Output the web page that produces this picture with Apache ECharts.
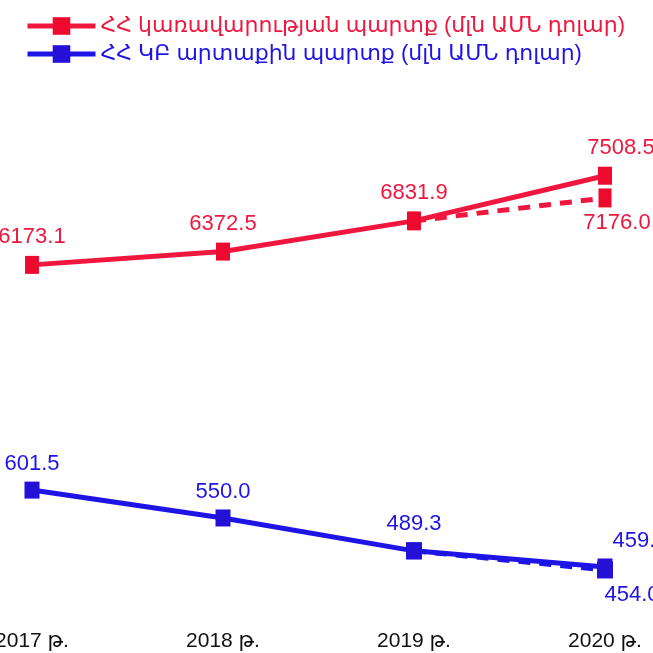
<!DOCTYPE html>
<html>
<head>
<meta charset="utf-8">
<script src="https://cdn.jsdelivr.net/npm/echarts@6/dist/echarts.min.js"></script>
<style>
  html, body { margin: 0; padding: 0; background: #fff; }
  #main { width: 653px; height: 653px; }
</style>
</head>
<body>
<div id="main"></div>
<script>
// data
var years = ['2017 թ.', '2018 թ.', '2019 թ.', '2020 թ.']
var govDebt = [6173.1, 6372.5, 6831.9, 7508.5]
var govDebtAlt = [null, null, 6831.9, 7176.0]
var cbDebt = [601.5, 550.0, 489.3, 459.5]
var cbDebtAlt = [null, null, 489.3, 454.0]

var govName = 'ՀՀ կառավարության պարտք (մլն ԱՄՆ դոլար)'
var cbName = 'ՀՀ ԿԲ արտաքին պարտք (մլն ԱՄՆ դոլար)'

var red = '#F0173F'
var redMark = '#EE0A2E'
var blue = '#1F14E6'
var blueMark = '#2410D6'
var font = '"Liberation Sans", Arial, "DejaVu Sans", sans-serif'

var myChart = echarts.init(document.getElementById('main'))

function fmt (p) { return p.value.toFixed(1) }

// label placement for the 2020 points, which sit off to the right
function lastLabel (pos, dx, color) {
  return {
    show: true,
    position: pos,
    offset: [dx, 0],
    color: color,
    fontSize: 22,
    fontFamily: font,
    formatter: fmt
  }
}

var option = {
  backgroundColor: '#fff',
  animation: false,
  legend: {
    data: [
      { name: govName, textStyle: { color: red } },
      { name: cbName, textStyle: { color: blue } }
    ],
    orient: 'vertical',
    left: 20,
    top: 10,
    itemWidth: 68,
    itemHeight: 22,
    itemGap: 6,
    lineStyle: { width: 5 },
    textStyle: { fontSize: 22, fontFamily: font }
  },
  grid: { left: 32, right: 48, top: 100, bottom: 53, outerBoundsMode: 'none' },
  xAxis: {
    type: 'category',
    data: years,
    boundaryGap: false,
    axisLine: { show: false },
    axisTick: { show: false },
    splitLine: { show: false },
    axisLabel: { margin: 31, fontSize: 21, color: '#111', fontFamily: font }
  },
  yAxis: [
    { type: 'value', min: 1153, max: 8643, show: false, splitLine: { show: false } },
    { type: 'value', min: 398.5, max: 1322, show: false, splitLine: { show: false } }
  ],
  series: [
    {
      name: 'gov-alt',
      type: 'line',
      yAxisIndex: 0,
      data: govDebtAlt.map(function (v, i) {
        if (i === 3) return { value: v, label: lastLabel('bottom', 12, red) }
        return v
      }),
      symbol: 'rect',
      symbolSize: [13, 19],
      itemStyle: { color: redMark },
      lineStyle: { color: red, width: 5, type: [12, 9] },
      label: { show: false }
    },
    {
      name: 'cb-alt',
      type: 'line',
      yAxisIndex: 1,
      data: cbDebtAlt.map(function (v, i) {
        if (i === 3) return { value: v, label: lastLabel('bottom', 27, blue) }
        return v
      }),
      symbol: 'rect',
      symbolSize: [16, 17],
      itemStyle: { color: blueMark },
      lineStyle: { color: blue, width: 5, type: [12, 9] },
      label: { show: false }
    },
    {
      name: govName,
      type: 'line',
      yAxisIndex: 0,
      data: govDebt.map(function (v, i) {
        if (i === 3) return { value: v, label: lastLabel('top', 16, red) }
        return v
      }),
      symbol: 'rect',
      symbolSize: [14, 18],
      itemStyle: { color: redMark },
      lineStyle: { color: red, width: 5 },
      label: {
        show: true,
        position: 'top',
        distance: 8,
        color: red,
        fontSize: 22,
        fontFamily: font,
        formatter: fmt
      }
    },
    {
      name: cbName,
      type: 'line',
      yAxisIndex: 1,
      data: cbDebt.map(function (v, i) {
        if (i === 3) return { value: v, label: lastLabel('top', 35, blue) }
        return v
      }),
      symbol: 'rect',
      symbolSize: [15, 17],
      itemStyle: { color: blueMark },
      lineStyle: { color: blue, width: 5 },
      label: {
        show: true,
        position: 'top',
        distance: 7,
        color: blue,
        fontSize: 22,
        fontFamily: font,
        formatter: fmt
      }
    }
  ]
}

myChart.setOption(option)
</script>
</body>
</html>
